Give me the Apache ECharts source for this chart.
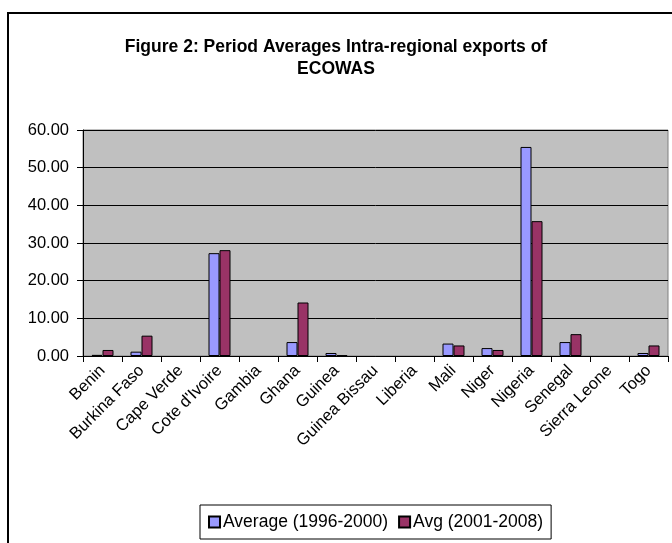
<!DOCTYPE html>
<html>
<head>
<meta charset="utf-8">
<script src="https://cdn.jsdelivr.net/npm/echarts@6/dist/echarts.min.js"></script>
<style>
  html, body { margin: 0; padding: 0; background: #fff; }
  #chart { width: 672px; height: 543px; }
</style>
</head>
<body>
<div id="chart"></div>
<script>
  const countries = ['Benin', 'Burkina Faso', 'Cape Verde', "Cote d'Ivoire", 'Gambia', 'Ghana', 'Guinea',
    'Guinea Bissau', 'Liberia', 'Mali', 'Niger', 'Nigeria', 'Senegal', 'Sierra Leone', 'Togo'];
  const avg1996 = [0.3, 1.15, 0, 27.3, 0, 3.7, 0.8, 0, 0, 3.3, 2.1, 55.5, 3.7, 0, 0.8];
  const avg2001 = [1.6, 5.4, 0, 28.1, 0, 14.2, 0.2, 0, 0, 2.8, 1.6, 35.8, 5.8, 0, 2.8];
  const seriesNames = ['Average (1996-2000)', 'Avg (2001-2008)'];

  // zero values leave no mark in the original (no border stub)
  const hideZero = arr => arr.map(v => (v === 0 ? '-' : v));

  const chart = echarts.init(document.getElementById('chart'));
  const font = 'Liberation Sans, Arial, sans-serif';

  const option = {
    backgroundColor: '#fff',
    animation: false,
    title: {
      text: 'Figure 2: Period Averages Intra-regional exports of\nECOWAS',
      left: 'center',
      top: 31,
      textStyle: { fontFamily: font, fontWeight: 'bold', fontSize: 17.5, color: '#000', lineHeight: 22 },
    },
    graphic: [
      {
        type: 'rect',
        shape: { x: 8, y: 13, width: 700, height: 600 },
        style: { fill: 'none', stroke: '#000', lineWidth: 2 },
        silent: true,
      },
    ],
    legend: {
      data: seriesNames,
      left: 200,
      top: 505,
      itemWidth: 11,
      itemHeight: 11,
      itemGap: 10,
      padding: [8, 8],
      borderColor: '#000',
      borderWidth: 1,
      icon: 'rect',
      textStyle: { fontFamily: font, fontSize: 17.5, color: '#000', padding: [0, 0, 0, -2] },
    },
    grid: {
      left: 83,
      right: 4,
      top: 130,
      bottom: 187,
      show: true,
      backgroundColor: '#c0c0c0',
      borderColor: '#808080',
      borderWidth: 1,
    },
    xAxis: {
      type: 'category',
      data: countries,
      axisLine: { lineStyle: { color: '#000', width: 1 } },
      axisTick: { show: true, length: 6, lineStyle: { color: '#000' } },
      axisLabel: {
        interval: 0,
        rotate: 45,
        margin: 12,
        fontFamily: font,
        fontSize: 16.5,
        color: '#000',
      },
    },
    yAxis: {
      type: 'value',
      min: 0,
      max: 60,
      interval: 10,
      axisLine: { show: true, lineStyle: { color: '#000', width: 1 } },
      axisTick: { show: true, length: 6, lineStyle: { color: '#000' } },
      axisLabel: {
        margin: 14,
        fontFamily: font,
        fontSize: 16.5,
        color: '#000',
        formatter: v => v.toFixed(2),
      },
      splitLine: { lineStyle: { color: '#000', width: 1 } },
    },
    series: [
      {
        name: seriesNames[0],
        type: 'bar',
        data: hideZero(avg1996),
        barWidth: 11,
        barGap: '0%',
        itemStyle: { color: '#9999ff', borderColor: '#000', borderWidth: 1 },
      },
      {
        name: seriesNames[1],
        type: 'bar',
        data: hideZero(avg2001),
        barWidth: 11,
        itemStyle: { color: '#993366', borderColor: '#000', borderWidth: 1 },
      },
    ],
  };

  chart.setOption(option);
</script>
</body>
</html>
